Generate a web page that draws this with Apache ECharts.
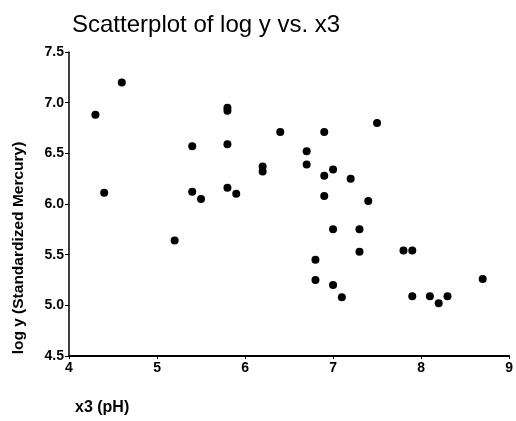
<!DOCTYPE html>
<html>
<head>
<meta charset="utf-8">
<script src="https://cdn.jsdelivr.net/npm/echarts@6/dist/echarts.min.js"></script>
<style>html,body{margin:0;padding:0;background:#fff;}#c{width:516px;height:421px;}</style>
</head>
<body>
<div id="c"></div>
<script>
const titleText = 'Scatterplot of log y vs. x3';
const xName = 'x3 (pH)';
const yName = 'log y (Standardized Mercury)';
const xValues = [4.3,4.6,4.4,5.4,5.4,5.5,5.8,5.8,5.8,5.8,5.9,6.2,6.2,6.4,6.9,7.5,6.7,6.7,7.0,6.9,7.2,6.9,7.4,7.0,7.3,7.3,7.8,7.9,6.8,6.8,7.0,7.1,7.9,8.1,8.2,8.3,8.7,5.2];
const yValues = [6.88,7.2,6.11,6.57,6.12,6.05,6.95,6.92,6.59,6.16,6.1,6.37,6.32,6.71,6.71,6.8,6.52,6.39,6.34,6.28,6.25,6.08,6.03,5.75,5.75,5.53,5.54,5.54,5.45,5.25,5.2,5.08,5.09,5.09,5.02,5.09,5.26,5.64];
const xTicks = [4,5,6,7,8,9];
const yTicks = [4.5,5.0,5.5,6.0,6.5,7.0,7.5];

const points = xValues.map((x,i)=>[x,yValues[i]]);
const chart = echarts.init(document.getElementById('c'), null, {renderer:'canvas'});
const font = 'Liberation Sans, Arial, Helvetica, sans-serif';
chart.setOption({
  animation:false,
  backgroundColor:'#fff',
  title:{text:titleText,left:67,top:8,textStyle:{fontFamily:font,fontSize:24,fontWeight:'normal',color:'#000'}},
  grid:{left:69,right:3,top:52,bottom:65,containLabel:false},
  xAxis:{type:'value',min:xTicks[0],max:xTicks[xTicks.length-1],interval:1,
    axisLine:{show:true,onZero:false,lineStyle:{color:'#000',width:2}},
    axisTick:{show:true,length:3,lineStyle:{color:'#000',width:1}},
    splitLine:{show:false},
    axisLabel:{color:'#000',fontFamily:font,fontSize:14,fontWeight:'bold',margin:5,formatter:v=>String(v)}},
  yAxis:{type:'value',min:yTicks[0],max:yTicks[yTicks.length-1],interval:0.5,
    axisLine:{show:true,onZero:false,lineStyle:{color:'#000',width:1.5}},
    axisTick:{show:true,length:4,lineStyle:{color:'#000',width:1}},
    splitLine:{show:false},
    axisLabel:{color:'#000',fontFamily:font,fontSize:14,fontWeight:'bold',margin:5,formatter:v=>v.toFixed(1)}},
  graphic:[
    {type:'text',x:19,y:248,rotation:Math.PI/2,style:{text:yName,fill:'#000',font:'bold 15.5px '+font,textAlign:'center',textVerticalAlign:'middle'}},
    {type:'text',left:75,top:400,style:{text:xName,fill:'#000',font:'bold 16px '+font}}
  ],
  series:[{type:'scatter',data:points,symbol:'circle',symbolSize:8,itemStyle:{color:'#000',opacity:1}}]
});
</script>
</body>
</html>
